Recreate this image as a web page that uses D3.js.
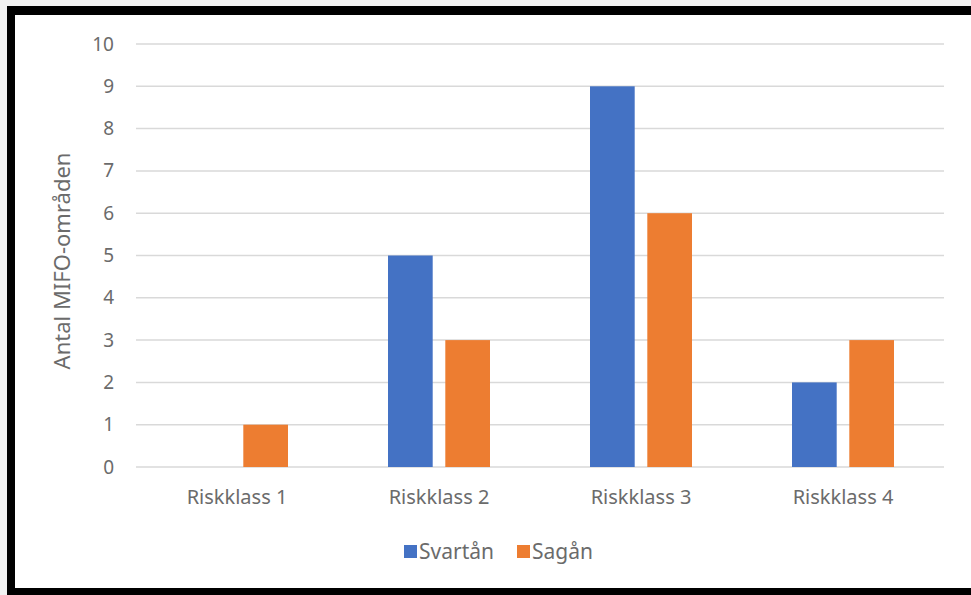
<!DOCTYPE html>
<html>
<head>
<meta charset="utf-8">
<script src="https://cdn.jsdelivr.net/npm/d3@7"></script>
<style>
  body { margin: 0; background: #f2f2f2; }
  text { font-family: "Noto Sans", "Open Sans", sans-serif; fill: #6b6b6b; }
</style>
</head>
<body>
<svg id="chart" width="971" height="595"></svg>
<script>

// data
var categories = ['Riskklass 1', 'Riskklass 2', 'Riskklass 3', 'Riskklass 4'];
var seriesNames = ['Svartån', 'Sagån'];
var svartan = [0, 5, 9, 2];
var sagan = [1, 3, 6, 3];
var yTicks = [0, 1, 2, 3, 4, 5, 6, 7, 8, 9, 10];
var colors = ['#4472c4', '#ed7d31'];

var svg = d3.select('#chart');

// black frame, open on the right like the screenshot
svg.append('rect').attr('x', 7).attr('y', 6).attr('width', 971).attr('height', 600).attr('fill', '#000');
svg.append('rect').attr('x', 15).attr('y', 15).attr('width', 971).attr('height', 573).attr('fill', '#fff');

var plot = { left: 136, right: 944, top: 44, bottom: 467 };

var y = d3.scaleLinear().domain([0, 10]).range([plot.bottom, plot.top]);
var x0 = d3.scaleBand().domain(categories).range([plot.left, plot.right]).padding(0);
var x1 = d3.scaleBand().domain(seriesNames).range([0, 102]).paddingInner(0.22);

// gridlines
svg.append('g').selectAll('line')
    .data(yTicks)
    .enter().append('line')
    .attr('x1', plot.left).attr('x2', plot.right)
    .attr('y1', function (d) { return y(d); })
    .attr('y2', function (d) { return y(d); })
    .attr('stroke', '#d9d9d9')
    .attr('stroke-width', 1.5);

// y axis labels
var yAxis = svg.append('g')
    .attr('transform', 'translate(114,0)')
    .call(d3.axisLeft(y).tickValues(yTicks).tickSize(0).tickPadding(0));
yAxis.select('.domain').remove();
yAxis.selectAll('text')
    .style('font-size', '19px')
    .style('font-family', '"Noto Sans", sans-serif')
    .attr('fill', '#6b6b6b');

// bars
var values = [svartan, sagan];
var groups = svg.append('g').selectAll('g')
    .data(categories)
    .enter().append('g')
    .attr('transform', function (d) {
        return 'translate(' + (x0(d) + x0.bandwidth() / 2 - 51) + ',0)';
    });

groups.selectAll('rect')
    .data(function (d, i) {
        return seriesNames.map(function (s, j) { return { name: s, val: values[j][i], j: j }; });
    })
    .enter().append('rect')
    .attr('x', function (d) { return x1(d.name); })
    .attr('y', function (d) { return y(d.val); })
    .attr('width', x1.bandwidth())
    .attr('height', function (d) { return plot.bottom - y(d.val); })
    .attr('fill', function (d) { return colors[d.j]; });

// category labels
var xAxis = svg.append('g')
    .attr('transform', 'translate(0,' + (plot.bottom + 23) + ')')
    .call(d3.axisBottom(x0).tickSize(0).tickPadding(0));
xAxis.select('.domain').remove();
xAxis.selectAll('text')
    .style('font-size', '20px')
    .style('font-family', '"Noto Sans", sans-serif')
    .attr('fill', '#6b6b6b');

// axis title
svg.append('text')
    .attr('transform', 'translate(70,261) rotate(-90)')
    .attr('text-anchor', 'middle')
    .style('font-size', '22px')
    .text('Antal MIFO-områden');

// legend
var legendX = [404, 517];
var legend = svg.append('g').selectAll('g')
    .data(seriesNames)
    .enter().append('g')
    .attr('transform', function (d, i) { return 'translate(' + legendX[i] + ',545)'; });
legend.append('rect')
    .attr('width', 13).attr('height', 13)
    .attr('fill', function (d, i) { return colors[i]; });
legend.append('text')
    .attr('x', 15).attr('y', 14)
    .style('font-size', '21px')
    .text(function (d) { return d; });

</script>
</body>
</html>
